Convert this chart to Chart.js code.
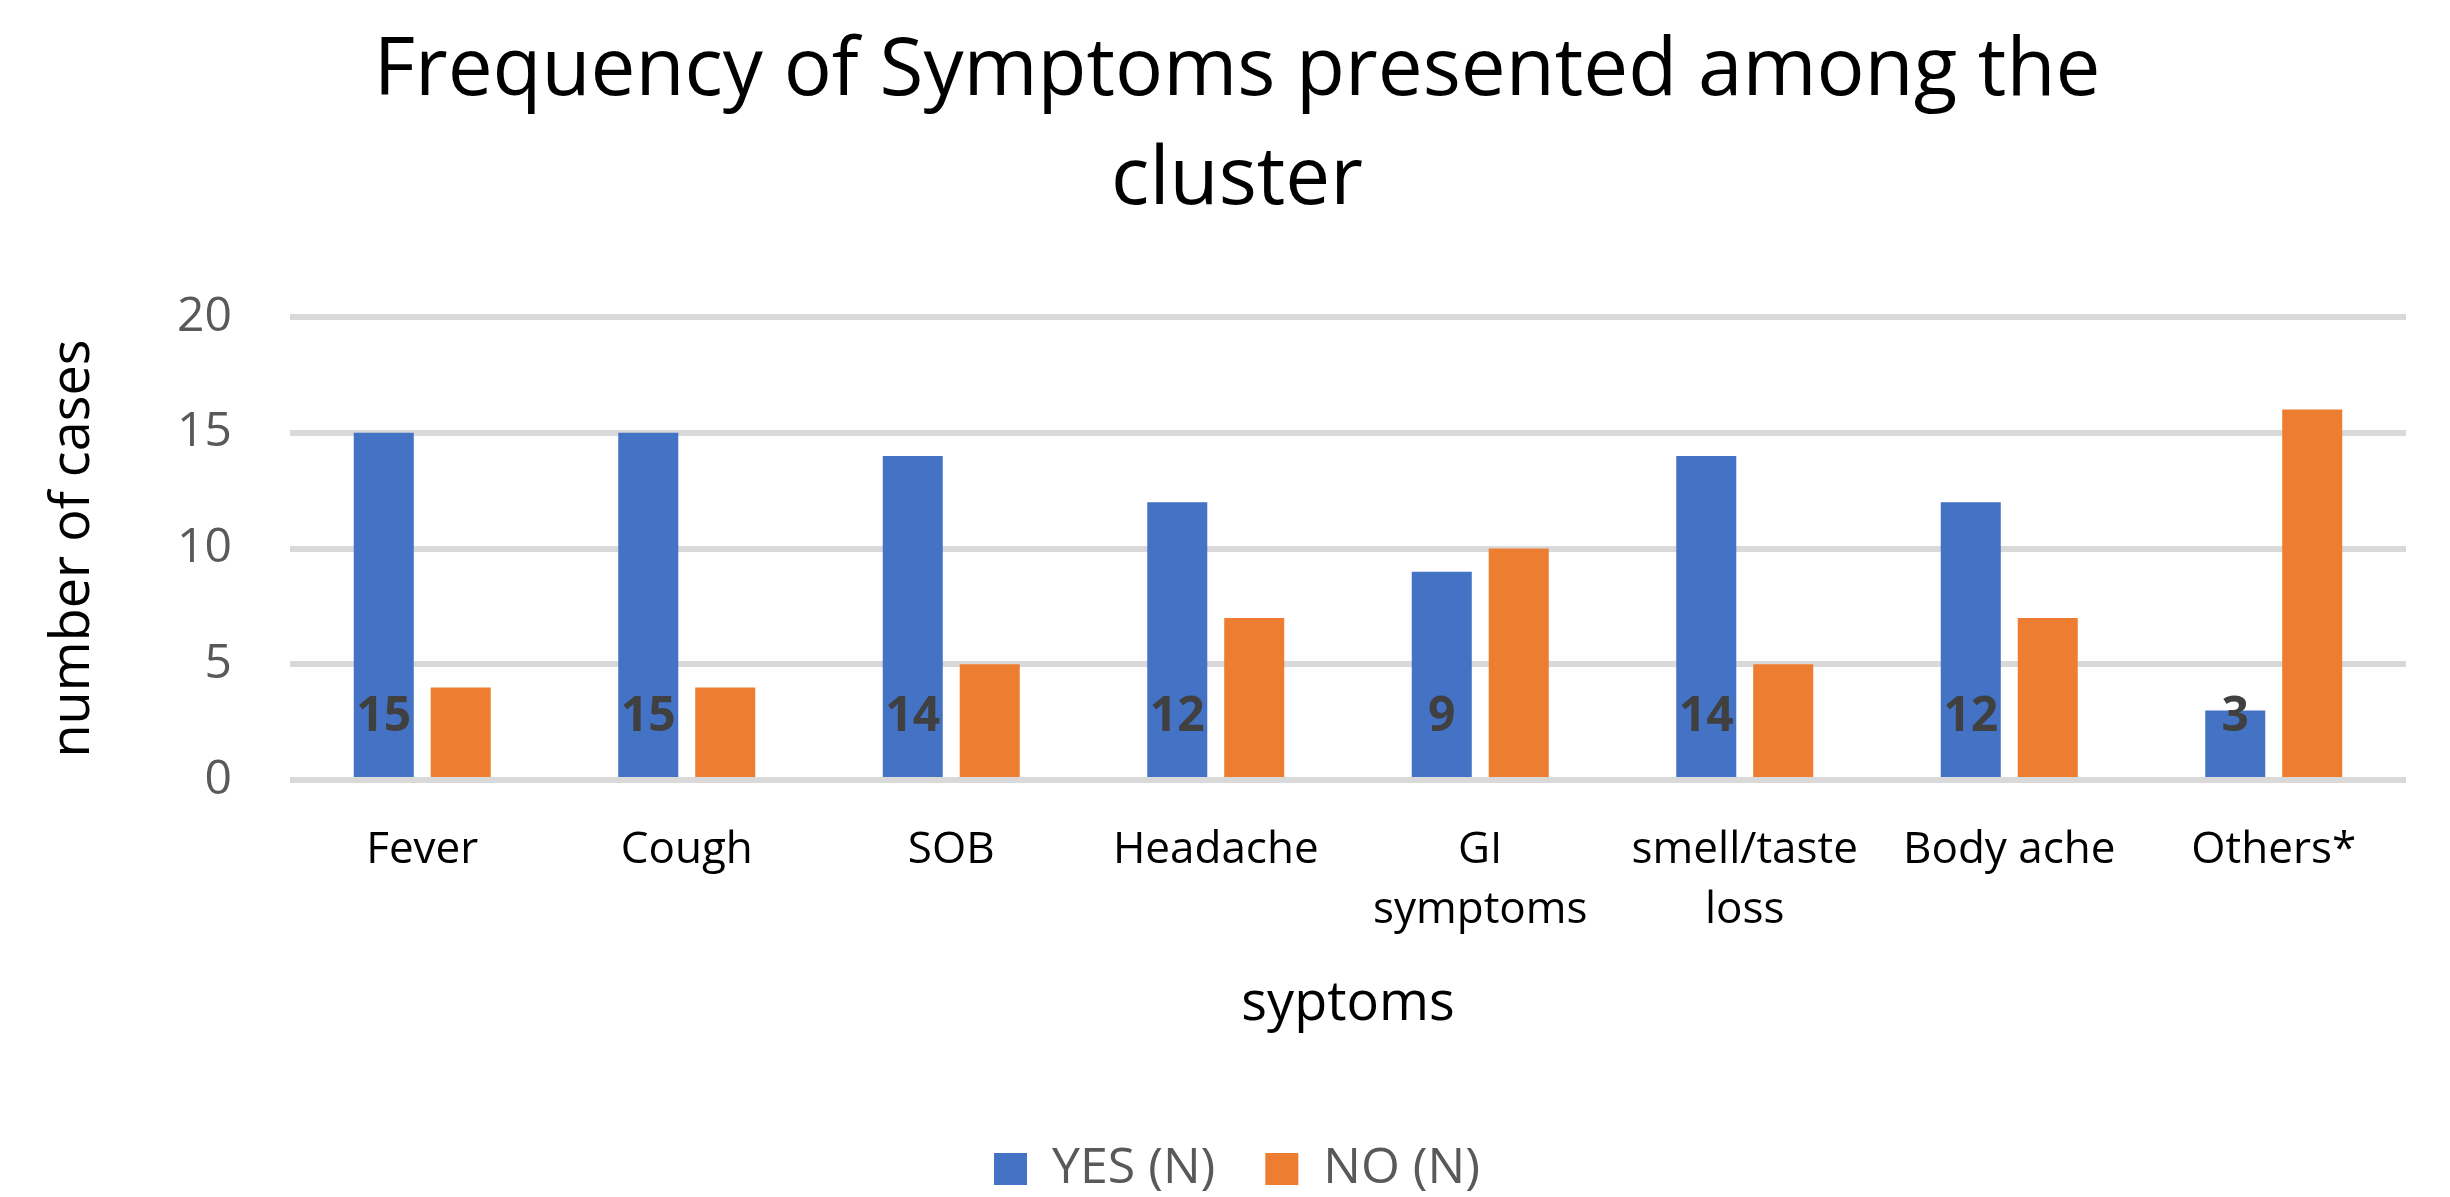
<!DOCTYPE html>
<html>
<head>
<meta charset="utf-8">
<script src="https://cdn.jsdelivr.net/npm/chart.js@4.4.1/dist/chart.umd.min.js"></script>
<style>
  html, body { margin: 0; padding: 0; background: #ffffff; }
  #wrap { width: 2450px; height: 1197px; position: relative; }
</style>
</head>
<body>
<div id="wrap"><canvas id="symptom-chart"></canvas></div>
<script>
// chart data
const symptom_labels = ['Fever', 'Cough', 'SOB', 'Headache', ['GI', 'symptoms'], ['smell/taste', 'loss'], 'Body ache', 'Others*'];
const yes_counts = [15, 15, 14, 12, 9, 14, 12, 3];
const no_counts = [4, 4, 5, 7, 10, 5, 7, 16];
const y_ticks = [0, 5, 10, 15, 20];

const font_family = "'Open Sans', 'Noto Sans', sans-serif";

// values of the YES series written near the base of each bar
const base_labels = {
  id: 'base_labels',
  afterDatasetsDraw: function(chart) {
    var ctx = chart.ctx;
    var meta = chart.getDatasetMeta(0);
    var y0 = chart.scales.y.getPixelForValue(0);
    ctx.save();
    ctx.font = 'bold 48px ' + font_family;
    ctx.fillStyle = '#404040';
    ctx.textAlign = 'center';
    ctx.textBaseline = 'middle';
    meta.data.forEach(function(bar, i) {
      ctx.fillText(String(chart.data.datasets[0].data[i]), bar.x, y0 - 63);
    });
    ctx.restore();
  }
};

var ctx = document.getElementById('symptom-chart').getContext('2d');
var chart = new Chart(ctx, {
  type: 'bar',
  data: {
    labels: symptom_labels,
    datasets: [
      {
        label: 'YES (N)',
        data: yes_counts,
        backgroundColor: '#4472C4',
        borderWidth: 0,
        categoryPercentage: 0.582,
        barPercentage: 0.78
      },
      {
        label: 'NO (N)',
        data: no_counts,
        backgroundColor: '#ED7D31',
        borderWidth: 0,
        categoryPercentage: 0.582,
        barPercentage: 0.78
      }
    ]
  },
  plugins: [base_labels],
  options: {
    responsive: true,
    maintainAspectRatio: false,
    devicePixelRatio: 1,
    animation: false,
    layout: { padding: { left: 24, right: 0, top: 0, bottom: -7 } },
    scales: {
      x: {
        grid: { display: false },
        border: { display: false },
        ticks: {
          color: '#000000',
          padding: 33,
          maxRotation: 0,
          autoSkip: false,
          font: { family: font_family, size: 44, lineHeight: 1.36 }
        },
        title: {
          display: true,
          text: 'syptoms',
          color: '#000000',
          font: { family: font_family, size: 54, lineHeight: 1.2 },
          padding: { top: 0, bottom: 57 }
        },
        afterFit: function(scale) { scale.height = 314; }
      },
      y: {
        min: 0,
        max: 20,
        afterBuildTicks: function(scale) {
          scale.ticks = y_ticks.map(function(v) { return { value: v }; });
        },
        grid: { color: '#D9D9D9', lineWidth: 6, drawTicks: false },
        border: { display: false },
        ticks: {
          color: '#595959',
          padding: 58,
          font: { family: font_family, size: 48 }
        },
        title: {
          display: true,
          text: 'number of cases',
          color: '#000000',
          font: { family: font_family, size: 54, lineHeight: 1.2 },
          padding: { top: 17, bottom: 0 }
        },
        afterFit: function(scale) { scale.width = 266; }
      },
      // empty right-hand axis, only keeps the plot clear of the right edge
      y_right: {
        position: 'right',
        display: true,
        grid: { display: false },
        border: { display: false },
        ticks: { display: false },
        afterFit: function(scale) { scale.width = 44; }
      }
    },
    plugins: {
      title: {
        display: true,
        text: ['Frequency of Symptoms presented among the', 'cluster'],
        color: '#000000',
        font: { family: font_family, size: 80, weight: 'normal', lineHeight: 1.3625 },
        padding: { top: 18, bottom: 81 }
      },
      legend: {
        position: 'bottom',
        labels: {
          color: '#595959',
          boxWidth: 33,
          boxHeight: 32,
          padding: 50,
          font: { family: font_family, size: 50 }
        }
      },
      tooltip: { enabled: false }
    }
  }
});
</script>
</body>
</html>
